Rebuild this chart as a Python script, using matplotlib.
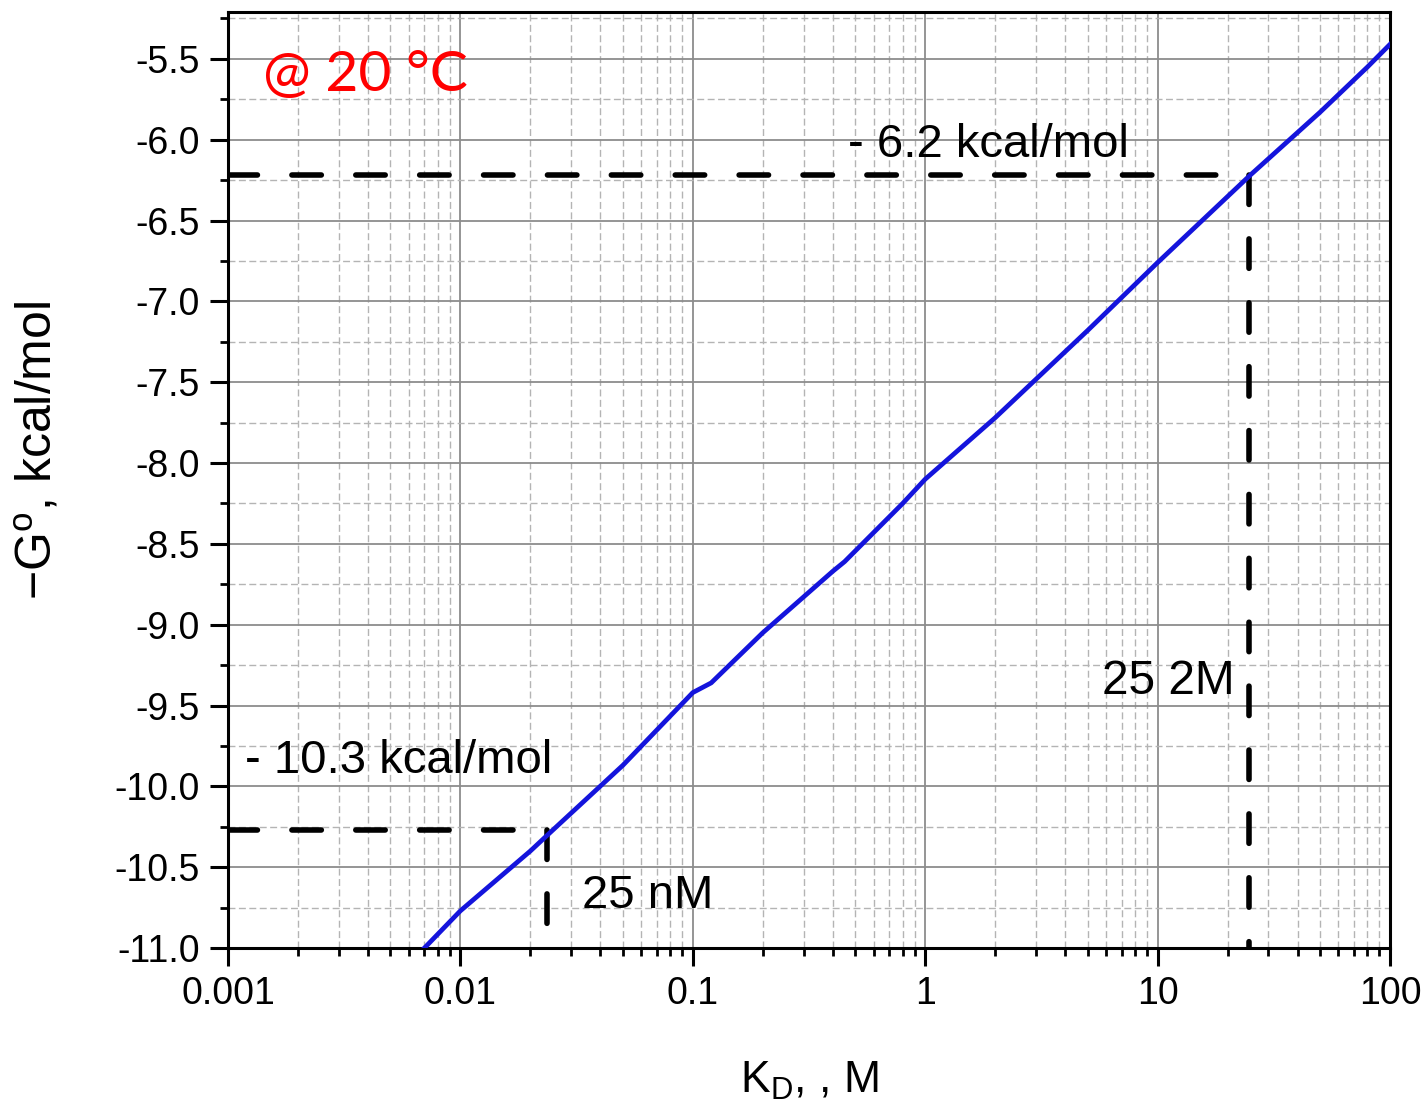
import numpy as np
import matplotlib
matplotlib.use('Agg')
import matplotlib.pyplot as plt
from matplotlib.ticker import FixedLocator, FixedFormatter, LogLocator, NullFormatter, MultipleLocator

plt.rcParams['font.family'] = ['Liberation Sans', 'DejaVu Sans']
plt.rcParams['axes.unicode_minus'] = False
plt.rcParams['mathtext.fontset'] = 'custom'
plt.rcParams['mathtext.rm'] = 'Liberation Sans'

# values (KD in uM, free energy in kcal/mol)
kd = [0.007, 0.01, 0.02, 0.025, 0.05, 0.1, 0.12, 0.2, 0.4, 0.45, 0.8, 1, 2, 5, 10, 25, 50, 80, 100]
dg = [-11.0, -10.77, -10.40, -10.27, -9.87, -9.42, -9.36, -9.05, -8.67, -8.61, -8.25, -8.10,
      -7.72, -7.18, -6.76, -6.22, -5.83, -5.55, -5.41]

# marked points
kd_low, dg_low = 0.0236, -10.27
kd_high, dg_high = 24.7, -6.22

x_ticks = [0.001, 0.01, 0.1, 1, 10, 100]
x_labels = ['0.001', '0.01', '0.1', '1', '10', '100']
y_ticks = [-11.0, -10.5, -10.0, -9.5, -9.0, -8.5, -8.0, -7.5, -7.0, -6.5, -6.0, -5.5]

fig = plt.figure(figsize=(14.27, 11.05), dpi=100)
ax = fig.add_axes([228 / 1427, 1 - 948 / 1105, 1162 / 1427, 936 / 1105])

ax.set_xscale('log')
ax.set_xlim(0.001, 100)
ax.set_ylim(-11.0, -5.21)

ax.xaxis.set_major_locator(FixedLocator(x_ticks))
ax.xaxis.set_major_formatter(FixedFormatter(x_labels))
ax.xaxis.set_minor_locator(LogLocator(base=10, subs=np.arange(2, 10), numticks=20))
ax.xaxis.set_minor_formatter(NullFormatter())
ax.yaxis.set_major_locator(FixedLocator(y_ticks))
ax.yaxis.set_major_formatter(FixedFormatter(['%.1f' % v for v in y_ticks]))
ax.yaxis.set_minor_locator(MultipleLocator(0.25))

# grid
ax.grid(True, which='major', color='#8c8c8c', linewidth=1.3, linestyle='-')
ax.grid(True, which='minor', color='#b4b4b4', linewidth=1.0, linestyle=(0, (5, 2.5)))
ax.set_axisbelow(True)

for s in ax.spines.values():
    s.set_linewidth(2.2)

ax.tick_params(axis='both', which='major', direction='out', length=13, width=2.2,
               labelsize=27, pad=7, top=False, right=False)
ax.tick_params(axis='both', which='minor', direction='out', length=6, width=2.0,
               top=False, right=False)

# main curve
ax.plot(kd, dg, color='#1414dc', linewidth=3.4, zorder=4)

# dashed guides
dash_kw = dict(color='black', linewidth=4, dashes=(5.3, 6.2), zorder=3,
               dash_capstyle='round')
ax.plot([0.001, kd_high], [dg_high, dg_high], **dash_kw)
ax.plot([kd_high, kd_high], [dg_high, -11.0], **dash_kw)
ax.plot([0.001, kd_low], [dg_low, dg_low], **dash_kw)
ax.plot([kd_low, kd_low], [dg_low, -11.0], **dash_kw)

# annotations
ax.text(0.466, -6.105, '- 6.2 kcal/mol', fontsize=34, va='baseline', ha='left')
ax.text(0.00118, -9.92, '- 10.3 kcal/mol', fontsize=34, va='baseline', ha='left')
ax.text(0.0333, -10.753, '25 nM', fontsize=34, va='baseline', ha='left')
ax.text(5.77, -9.43, '25 2M', fontsize=34.5, va='baseline', ha='left')
ax.text(0.00142, -5.70, '@ 20 °C', fontsize=41, color='#ff0000', family='Lato',
        va='baseline', ha='left')

ax.set_xlabel(r'K$_\mathrm{D}$, , M', fontsize=32)
ax.xaxis.set_label_coords(0.5, -0.119)
ax.set_ylabel(r'$-$G$^\mathrm{o}$, kcal/mol', fontsize=36)
ax.yaxis.set_label_coords(-0.143, 0.532)

fig.savefig('out.png', dpi=100)
